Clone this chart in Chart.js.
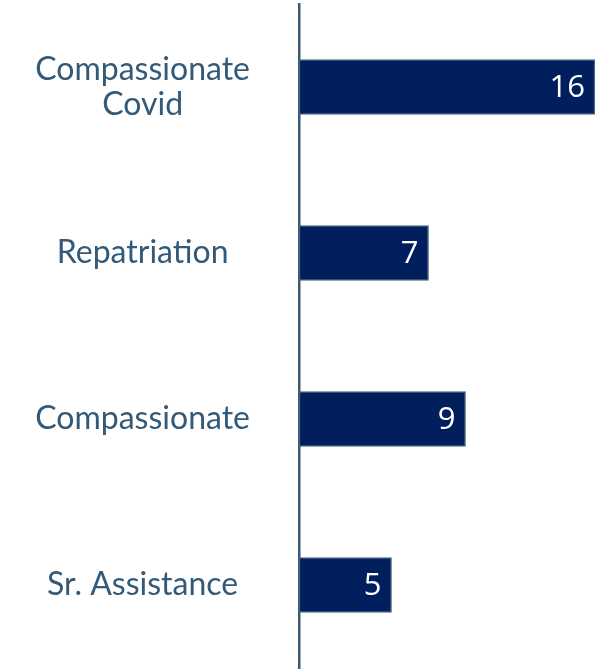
<!DOCTYPE html>
<html>
<head>
<meta charset="utf-8">
<script src="https://cdn.jsdelivr.net/npm/chart.js@4"></script>
<style>
  html, body { margin: 0; padding: 0; background: #fff; }
  #wrap { width: 595px; height: 670px; }
</style>
</head>
<body>
<div id="wrap"><canvas id="chart" width="595" height="670"></canvas></div>
<script>
const categories = [["Compassionate", "Covid"], "Repatriation", "Compassionate", "Sr. Assistance"];
const counts = [16, 7, 9, 5];

// white number drawn inside the end of each bar
const valueLabels = {
  id: "valueLabels",
  afterDatasetsDraw(chart) {
    const ctx = chart.ctx;
    const meta = chart.getDatasetMeta(0);
    ctx.save();
    ctx.font = "31px 'Open Sans'";
    ctx.fillStyle = "#ffffff";
    ctx.textAlign = "right";
    ctx.textBaseline = "middle";
    meta.data.forEach((bar, i) => {
      ctx.fillText(String(counts[i]), bar.x - 10, bar.y + 1);
    });
    ctx.restore();
  }
};

new Chart(document.getElementById("chart").getContext("2d"), {
  type: "bar",
  data: {
    labels: categories,
    datasets: [{
      data: counts,
      backgroundColor: "#001f5c",
      borderColor: "#46657f",
      borderWidth: 1.5,
      borderSkipped: false,
      barThickness: 55
    }]
  },
  options: {
    indexAxis: "y",
    responsive: false,
    animation: false,
    layout: { padding: { top: 4, bottom: 2, left: 0, right: 0 } },
    plugins: {
      legend: { display: false },
      tooltip: { enabled: false }
    },
    scales: {
      x: {
        display: false,
        min: 0,
        max: 16
      },
      y: {
        afterFit(scale) {
          scale.width = 299;
          scale.paddingTop = 0;
          scale.paddingBottom = 0;
        },
        grid: { display: false, drawTicks: false },
        border: { display: true, color: "#3a5a75", width: 2.5 },
        ticks: {
          crossAlign: "center",
          padding: 49,
          color: "#335a78",
          font: { family: "Lato", size: 32, lineHeight: 1.1 }
        }
      }
    }
  },
  plugins: [valueLabels]
});
</script>
</body>
</html>
